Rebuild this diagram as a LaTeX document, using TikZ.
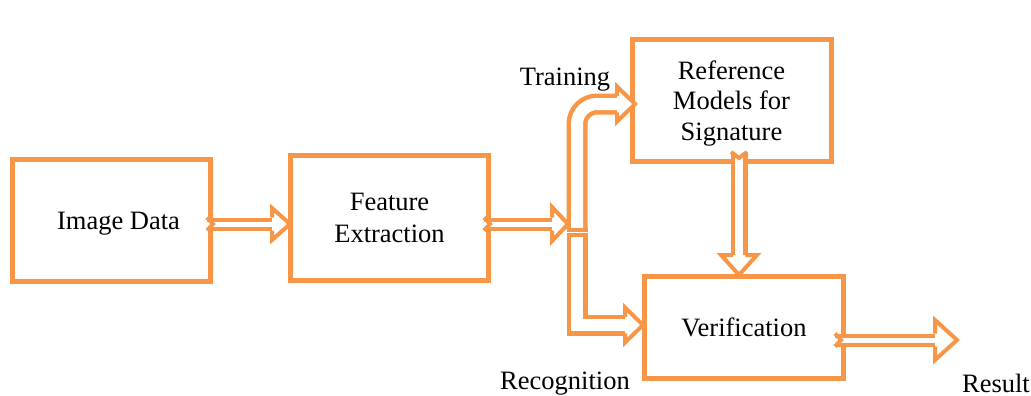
\documentclass[tikz,border=0pt]{standalone}
\usepackage{fontspec}
\setmainfont{Liberation Serif}
\usetikzlibrary{positioning}
\definecolor{sigorange}{HTML}{F79646}

\tikzset{
  box/.style={draw=sigorange, line width=5pt, fill=white, align=center, inner sep=0pt,
    text depth=0pt, font=\fontsize{26.5}{30.5}\selectfont},
  lbl/.style={inner sep=0pt, font=\fontsize{26.5}{30}\selectfont},
  shaft/.style={draw=sigorange, line width=4pt, double=white, double distance=5pt},
  wideshaft/.style={draw=sigorange, line width=4.5pt, double=white, double distance=12pt},
  tip/.style={draw=sigorange, line width=4pt, line join=miter, fill=white}
}

% head: tip, angle, half width, shaft half, length
\newcommand{\arrhead}[5]{%
  \begin{scope}[shift={(#1)}, rotate=#2]
    \fill[white] (0,0) -- (-#5,#3) -- (-#5,-#3) -- cycle;
    \draw[tip] (-#5,#4) -- (-#5,#3) -- (0,0) -- (-#5,-#3) -- (-#5,-#4);
  \end{scope}}
% notched tail: point, angle, shaft half
\newcommand{\arrtail}[3]{%
  \begin{scope}[shift={(#1)}, rotate=#2]
    \draw[tip, fill=none] (0,#3) -- (6,0) -- (0,-#3);
  \end{scope}}

\begin{document}
\begin{tikzpicture}[x=1pt, y=-1pt]
    \useasboundingbox (0,0) rectangle (1031,396);

    % blocks
    \node[box, minimum width=198pt, minimum height=122pt] (img) at (111.5,220.5) {\hspace*{14pt}Image Data};
    \node[box, minimum width=198pt, minimum height=125pt, text depth=-5pt] (feat) at (389.5,218) {Feature\\[1.5pt]Extraction};
    \node[box, minimum width=199pt, minimum height=122pt] (ref) at (731.5,100.5) {Reference\\Models for\\Signature};
    \node[box, minimum width=199pt, minimum height=102pt] (ver) at (744,327.5) {Verification};

    % labels
    \node[lbl] (train) at (565,80) {Training};
    \node[lbl] (recog) at (565,384) {Recognition};
    \node[lbl, anchor=east] (res) at (1030,383) {Result};

    % arrow ends
    \coordinate (a1s) at (207,224);
    \coordinate (a1e) at (290,224);
    \coordinate (a2s) at (484,224);
    \coordinate (fork) at (568,224);
    \coordinate (up0) at (577,230);
    \coordinate (up1) at (577,104);
    \coordinate (uptip) at (635,104);
    \coordinate (dn0) at (577,235);
    \coordinate (dn1) at (577,325);
    \coordinate (dntip) at (643,325);
    \coordinate (vs) at (739,152);
    \coordinate (ve) at (739,275);
    \coordinate (rs) at (835,340);
    \coordinate (re) at (957,340);

    % straight arrows
    \draw[shaft] (a1s) -- ([xshift=-18pt]a1e);
    \arrtail{a1s}{0}{6.5}
    \arrhead{a1e}{0}{16}{6.5}{18}

    \draw[shaft] (a2s) -- ([xshift=-16pt]fork);
    \arrtail{a2s}{0}{6.5}
    \arrhead{fork}{0}{17}{6.5}{16}

    % training branch
    \draw[wideshaft, rounded corners=20pt] (up0) -- (up1) -- ([xshift=-18pt]uptip);
    \draw[sigorange, line width=4.5pt] ([xshift=-10.5pt]up0) -- ([xshift=10.5pt]up0);
    \arrhead{uptip}{0}{17.5}{8.25}{18}

    % recognition branch
    \draw[wideshaft] (dn0) -- (dn1) -- ([xshift=-18pt]dntip);
    \draw[sigorange, line width=4.5pt] ([xshift=-10.5pt]dn0) -- ([xshift=10.5pt]dn0);
    \arrhead{dntip}{0}{17.5}{8.25}{18}

    % models to verification
    \draw[wideshaft, double distance=8pt] (vs) -- ([yshift=20pt]ve);
    \arrtail{vs}{-90}{8}
    \arrhead{ve}{-90}{18}{6.25}{20}

    % result
    \draw[shaft] (rs) -- ([xshift=-22pt]re);
    \arrtail{rs}{0}{6.5}
    \arrhead{re}{0}{20}{6.5}{22}
\end{tikzpicture}
\end{document}
